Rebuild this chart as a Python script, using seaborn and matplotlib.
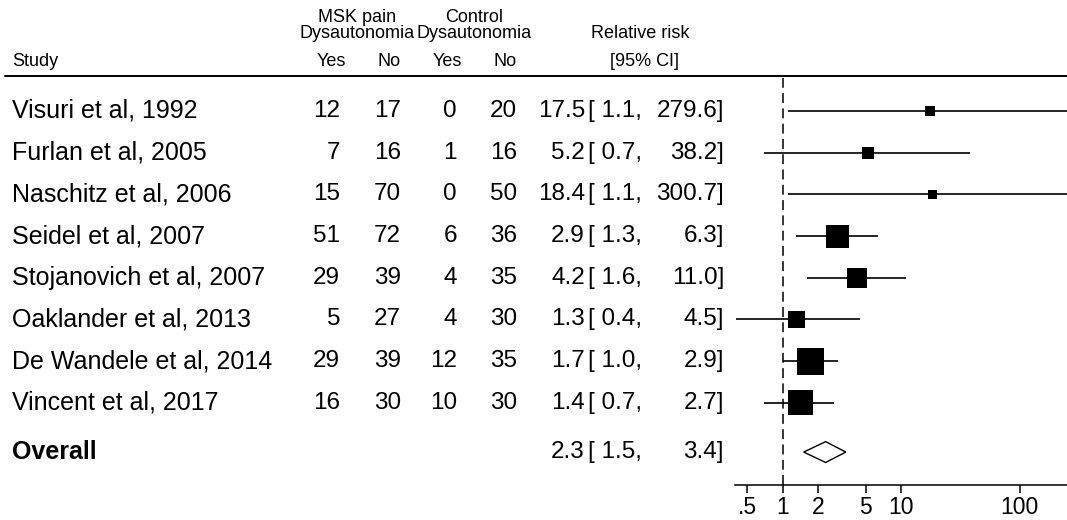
import numpy as np
import pandas as pd
import matplotlib
matplotlib.use("Agg")
import matplotlib.pyplot as plt
import matplotlib.transforms as mtransforms
import seaborn as sns

# ---- data ----
studies = ["Visuri et al, 1992", "Furlan et al, 2005", "Naschitz et al, 2006",
           "Seidel et al, 2007", "Stojanovich et al, 2007", "Oaklander et al, 2013",
           "De Wandele et al, 2014", "Vincent et al, 2017"]
msk_yes = [12, 7, 15, 51, 29, 5, 29, 16]
msk_no = [17, 16, 70, 72, 39, 27, 39, 30]
ctl_yes = [0, 1, 0, 6, 4, 4, 12, 10]
ctl_no = [20, 16, 50, 36, 35, 30, 35, 30]
rr = [17.5, 5.2, 18.4, 2.9, 4.2, 1.3, 1.7, 1.4]
ci_lo = [1.1, 0.7, 1.1, 1.3, 1.6, 0.4, 1.0, 0.7]
ci_hi = [279.6, 38.2, 300.7, 6.3, 11.0, 4.5, 2.9, 2.7]
weights = [3.4, 5.0, 3.1, 18.2, 13.8, 9.9, 25.1, 21.5]
overall_rr, overall_lo, overall_hi = 2.3, 1.5, 3.4
xticks = [0.5, 1, 2, 5, 10, 100]
xticklabels = [".5", "1", "2", "5", "10", "100"]

sns.set_theme(style="white")
plt.rcParams['font.family'] = ['Liberation Sans', 'DejaVu Sans']
plt.rcParams['text.color'] = 'black'
plt.rcParams['xtick.color'] = 'black'
plt.rcParams['xtick.labelcolor'] = 'black'

W, H = 1067, 520
fig = plt.figure(figsize=(W / 100, H / 100), dpi=100)
ax = fig.add_axes([735 / W, (H - 485) / H, (W - 735) / W, (485 - 78) / H])

df = pd.DataFrame({"study": studies, "rr": rr, "lo": ci_lo, "hi": ci_hi,
                   "w": weights, "row": np.arange(len(studies))})
overall_row = 8.18

# CI lines
ax.hlines(df["row"], df["lo"], df["hi"], color="black", lw=1.2, zorder=2)
# squares
k = 15.06
sns.scatterplot(data=df, x="rr", y="row", size="w",
                sizes=(min(weights) * k, max(weights) * k),
                marker="s", color="black", linewidth=0, legend=False, ax=ax, zorder=3)
# diamond
dh = 0.25
ax.fill([overall_lo, overall_rr, overall_hi, overall_rr],
        [overall_row, overall_row - dh, overall_row, overall_row + dh],
        facecolor="white", edgecolor="black", lw=1.0, zorder=3)
# null line
ax.axvline(1, color="black", lw=1.1, linestyle=(0, (6.5, 3.5)), zorder=1)

ax.set_xscale("log")
ax.set_xlim(0.395, 250)
ax.set_ylim(8.97, -0.79)
ax.set_xticks(xticks)
ax.set_xticklabels(xticklabels, fontsize=16.5, color="black")
ax.minorticks_off()
ax.set_yticks([])
ax.set_xlabel("")
ax.set_ylabel("")
for s in ["top", "right", "left"]:
    ax.spines[s].set_visible(False)
ax.spines["bottom"].set_linewidth(1.1)
ax.spines["bottom"].set_color("black")
ax.tick_params(axis="x", direction="out", length=6, width=1.1, color="black",
               pad=2, bottom=True, labelcolor="black")
ax.set_facecolor("none")

# text columns
trans = mtransforms.blended_transform_factory(fig.transFigure, ax.transData)
fs = 18
fs2 = 17.5
def px(x):
    return x / W

kw = dict(transform=trans, va="center", fontsize=fs, clip_on=False, color="black")
kw2 = dict(transform=trans, va="center", fontsize=fs2, clip_on=False, color="black")
for i in range(len(studies)):
    ax.text(px(12), i, studies[i], ha="left", **kw)
    ax.text(px(340), i, str(msk_yes[i]), ha="right", **kw2)
    ax.text(px(401), i, str(msk_no[i]), ha="right", **kw2)
    ax.text(px(457), i, str(ctl_yes[i]), ha="right", **kw2)
    ax.text(px(517), i, str(ctl_no[i]), ha="right", **kw2)
    ax.text(px(585), i, f"{rr[i]:.1f}", ha="right", **kw2)
    ax.text(px(588), i, f"[ {ci_lo[i]:.1f},", ha="left", **kw2)
    ax.text(px(724), i, f"{ci_hi[i]:.1f}]", ha="right", **kw2)

ax.text(px(12), overall_row, "Overall", ha="left", fontweight="bold", **kw)
ax.text(px(585), overall_row, f"{overall_rr:.1f}", ha="right", **kw2)
ax.text(px(588), overall_row, f"[ {overall_lo:.1f},", ha="left", **kw2)
ax.text(px(724), overall_row, f"{overall_hi:.1f}]", ha="right", **kw2)

# header
hfs = 13
def fy(y):
    return 1 - y / H
hk = dict(va="center", fontsize=hfs, color="black")
fig.text(px(357), fy(17), "MSK pain", ha="center", **hk)
fig.text(px(357), fy(33), "Dysautonomia", ha="center", **hk)
fig.text(px(474), fy(17), "Control", ha="center", **hk)
fig.text(px(474), fy(33), "Dysautonomia", ha="center", **hk)
fig.text(px(640), fy(33), "Relative risk", ha="center", **hk)
fig.text(px(12), fy(61), "Study", ha="left", **hk)
fig.text(px(331), fy(61), "Yes", ha="center", **hk)
fig.text(px(389), fy(61), "No", ha="center", **hk)
fig.text(px(447), fy(61), "Yes", ha="center", **hk)
fig.text(px(505), fy(61), "No", ha="center", **hk)
fig.text(px(645), fy(61), "[95% CI]", ha="center", **hk)
fig.add_artist(plt.Line2D([px(5), 1.0], [fy(76), fy(76)], color="black", lw=1.4))

fig.savefig("out.png", dpi=100, facecolor="white")
